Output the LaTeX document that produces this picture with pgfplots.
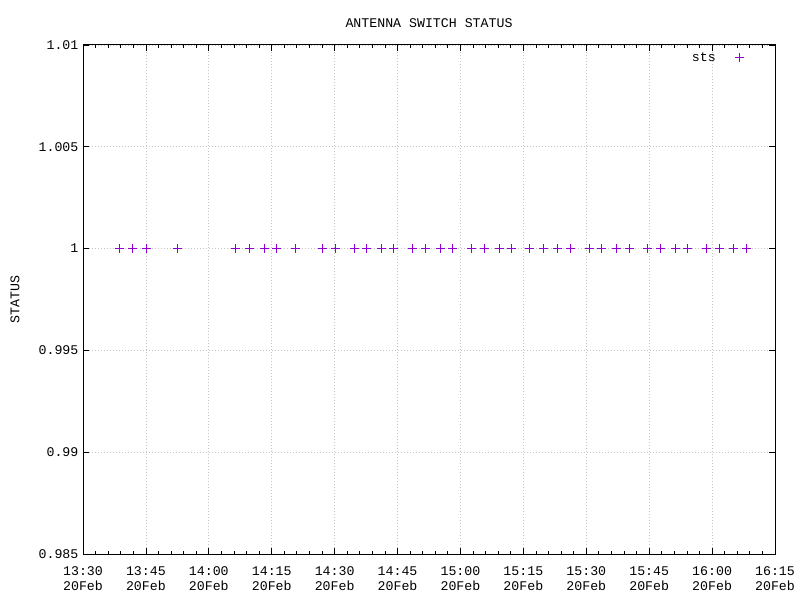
\documentclass[border=0pt]{standalone}
\usepackage{pgfplots}
\pgfplotsset{compat=1.18}
\usepackage{fontspec}
\setmainfont{Liberation Mono}
\definecolor{ptcol}{HTML}{9400D3}
\definecolor{gridcol}{HTML}{C4C4C4}
\begin{document}
\fontsize{13.3}{15}\selectfont
\begin{tikzpicture}
\useasboundingbox (0,0) rectangle (800bp,600bp);
\begin{axis}[
  at={(83bp,46bp)}, anchor=south west,
  scale only axis, width=692bp, height=509bp,
  xmin=0, xmax=165, ymin=0.985, ymax=1.01,
  xtick={0,15,30,45,60,75,90,105,120,135,150,165},
  xticklabels={{13:30\\20Feb},{13:45\\20Feb},{14:00\\20Feb},{14:15\\20Feb},{14:30\\20Feb},{14:45\\20Feb},{15:00\\20Feb},{15:15\\20Feb},{15:30\\20Feb},{15:45\\20Feb},{16:00\\20Feb},{16:15\\20Feb}},
  minor x tick num=4,
  ytick={0.985,0.99,0.995,1,1.005,1.01},
  yticklabels={0.985,0.99,0.995,1,1.005,1.01},
  xtick pos=both, ytick pos=both, tick align=inside,
  major tick length=6bp, minor tick length=3bp,
  every tick/.style={black, line width=0.8bp},
  axis line style={black, line width=1bp},
  grid=major,
  major grid style={gridcol, line width=0.8bp, dash pattern=on 1bp off 2bp},
  xticklabel style={align=center, font=\fontsize{13.3}{15}\selectfont, yshift=-8bp},
  yticklabel style={font=\fontsize{13.3}{15}\selectfont},
  title={ANTENNA SWITCH STATUS},
  title style={at={(axis description cs:0.5,1.0314)}, anchor=center, font=\fontsize{13.3}{15}\selectfont},
  ylabel={STATUS},
  ylabel style={at={(axis description cs:-0.0983,0.5)}, anchor=center, font=\fontsize{13.3}{15}\selectfont},
  legend style={at={(axis description cs:0.9855,0.9745)}, anchor=east, draw=none, fill=none, font=\fontsize{13.3}{15}\selectfont, legend cell align=right},
  legend plot pos=right,
  legend image code/.code={\path[draw=none, fill=none] (0bp,-3bp) rectangle (44bp,3bp); \draw[draw=ptcol, line width=1bp] (17.5bp,0bp) -- (26.5bp,0bp) (22bp,-4.5bp) -- (22bp,4.5bp);},
]
\addplot[only marks, mark=+, mark size=4.5bp, color=ptcol, mark options={line width=1bp, ptcol}] coordinates {
(8.66,1)(11.75,1)(15.19,1)(22.65,1)(36.41,1)(39.65,1)(43.16,1)(46.19,1)(50.62,1)(57.06,1)
(60.16,1)(64.69,1)(67.48,1)(71.13,1)(74.08,1)(78.61,1)(81.62,1)(85.19,1)(88.06,1)(92.59,1)
(95.69,1)(99.26,1)(102.12,1)(106.58,1)(109.75,1)(113.02,1)(116.12,1)(120.72,1)(123.58,1)(127.26,1)
(130.26,1)(134.55,1)(137.58,1)(141.23,1)(144.09,1)(148.55,1)(151.72,1)(154.99,1)(158.09,1)
};
\addlegendentry{sts}
\end{axis}
\end{tikzpicture}
\end{document}
